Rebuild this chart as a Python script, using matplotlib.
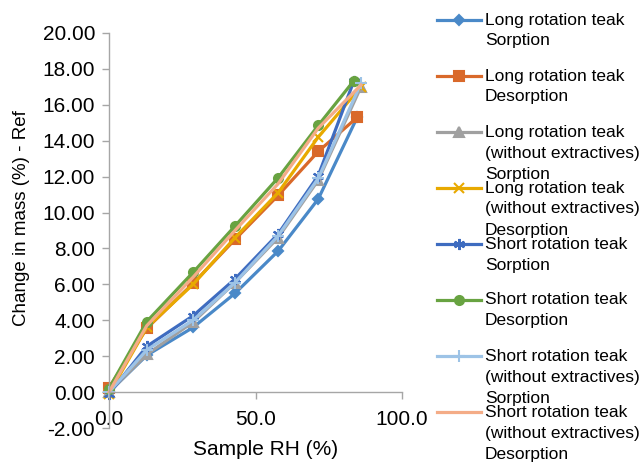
import matplotlib
matplotlib.use("Agg")
import matplotlib.pyplot as plt
from matplotlib.lines import Line2D

plt.rcParams["font.family"] = ["Liberation Sans", "DejaVu Sans"]
plt.rcParams["font.size"] = 12.5

W, H = 640, 465

# sample RH (%) per series group
RH_LONG = [0, 12.9, 28.7, 43.0, 57.7, 71.4, 84.7]
RH_LONG_NOEXT = [0, 12.9, 28.7, 43.0, 57.7, 71.4, 86.0]
RH_SHORT = [0, 12.9, 28.7, 43.0, 57.7, 71.4, 83.5]
RH_SHORT_NOEXT = [0, 12.9, 28.7, 43.0, 57.7, 71.4, 86.0]

# change in mass (%)
long_sorp = [0, 2.05, 3.6, 5.5, 7.85, 10.75, 15.3]
long_desorp = [0.25, 3.55, 6.05, 8.5, 10.95, 13.4, 15.3]
long_noext_sorp = [0, 2.1, 3.9, 6.1, 8.6, 11.8, 17.0]
long_noext_desorp = [-0.1, 3.6, 6.0, 8.6, 11.1, 14.2, 17.0]
short_sorp = [-0.1, 2.55, 4.25, 6.3, 8.8, 12.05, 17.3]
short_desorp = [0.2, 3.93, 6.67, 9.25, 11.93, 14.85, 17.33]
short_noext_sorp = [0, 2.35, 4.0, 6.1, 8.7, 11.9, 17.2]
short_noext_desorp = [0, 3.7, 6.4, 9.0, 11.6, 14.7, 17.1]

X_TICKS = [0, 50, 100]
X_TICKLABELS = ["0.0", "50.0", "100.0"]
Y_TICKS = list(range(-2, 21, 2))

LABELS = ["Long rotation teak\nSorption",
          "Long rotation teak\nDesorption",
          "Long rotation teak\n(without extractives)\nSorption",
          "Long rotation teak\n(without extractives)\nDesorption",
          "Short rotation teak\nSorption",
          "Short rotation teak\nDesorption",
          "Short rotation teak\n(without extractives)\nSorption",
          "Short rotation teak\n(without extractives)\nDesorption"]

SERIES = [(RH_LONG, long_sorp), (RH_LONG, long_desorp),
          (RH_LONG_NOEXT, long_noext_sorp), (RH_LONG_NOEXT, long_noext_desorp),
          (RH_SHORT, short_sorp), (RH_SHORT, short_desorp),
          (RH_SHORT_NOEXT, short_noext_sorp), (RH_SHORT_NOEXT, short_noext_desorp)]

COLORS = ["#4A89C8", "#D9692A", "#A0A0A0", "#E8A900",
          "#3E6CC0", "#68A341", "#9DC3E6", "#F4AC87"]
MARKERS = ["D", "s", "^", "x", (6, 2, 0), "o", "+", None]
MSIZE = [5, 7.5, 6.5, 7, 8, 6.5, 8, 0]

fig = plt.figure(figsize=(W / 100, H / 100), dpi=100)
ax = fig.add_axes([109 / W, 1 - 428 / H, (402 - 109) / W, (428 - 33) / H])

for s in ("top", "right"):
    ax.spines[s].set_visible(False)
ax.spines["bottom"].set_position(("data", 0))
for s in ("left", "bottom"):
    ax.spines[s].set_color("#a6a6a6")
    ax.spines[s].set_linewidth(1.0)

for (x, y), c, m, ms in zip(SERIES, COLORS, MARKERS, MSIZE):
    ax.plot(x, y, color=c, lw=2.3, marker=m, ms=ms, mew=1.5,
            mfc=c, mec=c, clip_on=False)

ax.set_xlim(0, 100)
ax.set_ylim(-2, 20)
ax.set_xticks(X_TICKS)
ax.set_xticklabels(X_TICKLABELS)
ax.set_yticks(Y_TICKS)
ax.set_yticklabels([f"{v:.2f}" for v in Y_TICKS])
ax.tick_params(axis="x", length=5, pad=8, color="#a6a6a6", width=1.0,
               labelsize=15)
ax.tick_params(axis="y", length=5, pad=5, color="#a6a6a6", width=1.0,
               labelsize=15)

fig.text(266 / W, 1 - 449 / H, "Sample RH (%)", ha="center", va="center",
         fontsize=15)
fig.text(22 / W, 1 - 218 / H, "Change in mass (%) - Ref", ha="center",
         va="center", rotation=90, fontsize=13.5)

# legend drawn by hand (Excel-style overlapping entries)
for i, (lab, c, m, ms) in enumerate(zip(LABELS, COLORS, MARKERS, MSIZE)):
    yc = 20 + 56 * i
    fy = 1 - yc / H
    fig.add_artist(Line2D([437 / W, 481 / W], [fy, fy], transform=fig.transFigure,
                          color=c, lw=2.3))
    if m is not None:
        fig.add_artist(Line2D([459 / W], [fy], transform=fig.transFigure,
                              color=c, marker=m, ms=ms, mew=1.5, mfc=c, mec=c))
    for k, line in enumerate(lab.split("\n")):
        fig.text(485 / W, 1 - (yc + 21 * k) / H, line, ha="left", va="center")

fig.savefig("out.png", dpi=100)
